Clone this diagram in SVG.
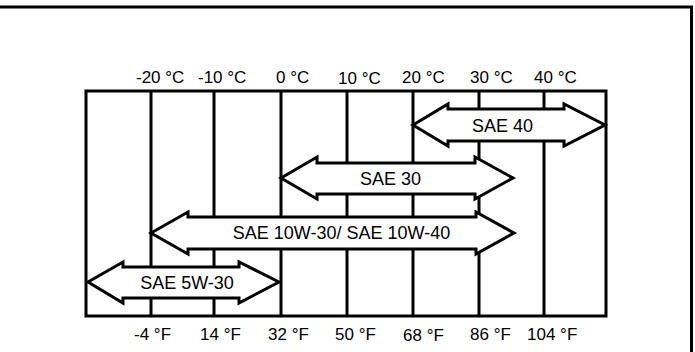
<svg xmlns="http://www.w3.org/2000/svg" width="695" height="352" viewBox="0 0 695 352">
<style>
.ln{stroke:#000;stroke-width:3;fill:none}
.ar{stroke:#000;stroke-width:3;fill:#fff;stroke-linejoin:miter}
.ax{font-family:"Liberation Sans",Arial,sans-serif;font-size:17px;fill:#000}
.lb{font-family:"Liberation Sans",Arial,sans-serif;font-size:18px;fill:#000;text-anchor:middle}
</style>
<rect width="695" height="352" fill="#fff"/>
<g id="frame">
<polyline class="ln" points="0,7 691.5,7 691.5,352"/>
</g>
<g id="grid">
<rect class="ln" x="86" y="91" width="520" height="225"/>
<line class="ln" x1="151" y1="91" x2="151" y2="316"/>
<line class="ln" x1="214" y1="91" x2="214" y2="316"/>
<line class="ln" x1="281" y1="91" x2="281" y2="316"/>
<line class="ln" x1="347" y1="91" x2="347" y2="316"/>
<line class="ln" x1="413" y1="91" x2="413" y2="316"/>
<line class="ln" x1="479" y1="91" x2="479" y2="316"/>
<line class="ln" x1="544" y1="91" x2="544" y2="316"/>
</g>
<g id="celsius">
<text class="ax" x="136" y="83">-20 °C</text>
<text class="ax" x="198" y="83">-10 °C</text>
<text class="ax" x="276" y="83">0 °C</text>
<text class="ax" x="338" y="84">10 °C</text>
<text class="ax" x="402" y="83">20 °C</text>
<text class="ax" x="470" y="83">30 °C</text>
<text class="ax" x="534" y="83">40 °C</text>
</g>
<g id="fahrenheit">
<text class="ax" x="134" y="340">-4 °F</text>
<text class="ax" x="200" y="340">14 °F</text>
<text class="ax" x="268" y="340">32 °F</text>
<text class="ax" x="335" y="340">50 °F</text>
<text class="ax" x="403" y="341">68 °F</text>
<text class="ax" x="470" y="340">86 °F</text>
<text class="ax" x="527" y="340">104 °F</text>
</g>
<g id="connectors">
<g id="sae40">
<polygon class="ar" points="413,125 448,104 448,109 564,109 564,104 605,125 564,146 564,141 448,141 448,146"/>
<text class="lb" x="502.5" y="131.5">SAE 40</text>
</g>
<g id="sae30">
<polygon class="ar" points="281,178 317,157 317,163 475,163 475,157 513,178 475,199 475,194 317,194 317,199"/>
<text class="lb" x="390.5" y="184.5">SAE 30</text>
</g>
<g id="sae10w">
<polygon class="ar" points="151,233 188,212 188,217 476,217 476,212 514,233 476,254 476,249 188,249 188,254"/>
<text class="lb" x="341.5" y="238.5">SAE 10W-30/ SAE 10W-40</text>
</g>
<g id="sae5w">
<polygon class="ar" points="88,282 123,262 123,267 239,267 239,262 279,282 239,303 239,298 123,298 123,303"/>
<text class="lb" x="187" y="289">SAE 5W-30</text>
</g>
</g>
</svg>
